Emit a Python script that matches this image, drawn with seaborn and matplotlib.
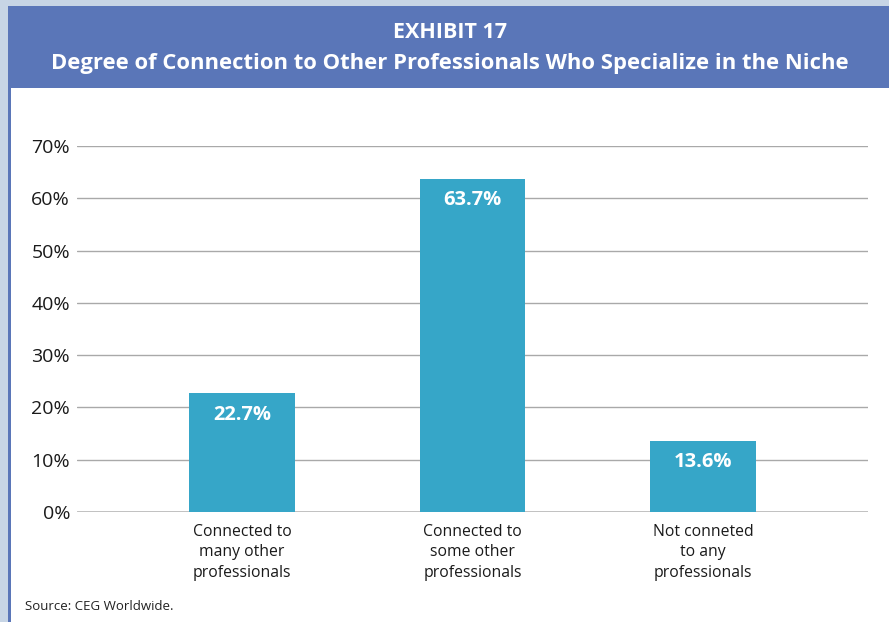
import matplotlib
matplotlib.use("Agg")
import matplotlib.pyplot as plt
from matplotlib.patches import Rectangle
import seaborn as sns
import pandas as pd

categories = ["Connected to\nmany other\nprofessionals",
              "Connected to\nsome other\nprofessionals",
              "Not conneted\nto any\nprofessionals"]
values = [22.7, 63.7, 13.6]
yticks = [0, 10, 20, 30, 40, 50, 60, 70]
title_line1 = "EXHIBIT 17"
title_line2 = "Degree of Connection to Other Professionals Who Specialize in the Niche"
source = "Source: CEG Worldwide."

sns.set_theme(style="white")
plt.rcParams["font.family"] = ["Open Sans", "DejaVu Sans"]

W, H = 889, 622
fig = plt.figure(figsize=(W / 100, H / 100), dpi=100)
fig.patch.set_facecolor("#c7d5e5")

def fx(px):
    return px / W

def fy(py):
    return 1 - py / H

# white panel, header band and left rule
fig.patches.append(Rectangle((fx(10), 0), 1 - fx(10), fy(88), transform=fig.transFigure,
                             facecolor="white", edgecolor="none", zorder=-2))
fig.patches.append(Rectangle((fx(10), fy(88)), 1 - fx(10), fy(6) - fy(88), transform=fig.transFigure,
                             facecolor="#5a76b8", edgecolor="none", zorder=-2))
fig.patches.append(Rectangle((fx(8), 0), fx(3), fy(6), transform=fig.transFigure,
                             facecolor="#5a76b8", edgecolor="none", zorder=-2))

fig.text(0.5 + fx(5), fy(33), title_line1, ha="center", va="center", color="white",
         fontsize=15.5, fontweight="bold")
fig.text(0.5 + fx(5), fy(63), title_line2, ha="center", va="center", color="white",
         fontsize=15.8, fontweight="bold")
fig.text(fx(25), fy(606), source, ha="left", va="center", color="#222222", fontsize=9.5)

df = pd.DataFrame({"category": categories, "value": values})

ax = fig.add_axes([fx(77), fy(512), fx(868) - fx(77), fy(146) - fy(512)])
ax.set_zorder(2)
ax.set_facecolor("none")
sns.barplot(data=df, x="category", y="value", color="#36a6c8", width=0.46,
            saturation=1, linewidth=0, edgecolor="none", ax=ax, zorder=3)
ax.set_xlim(-0.717, 2.717)
ax.set_ylim(0, 70)
ax.set_yticks(yticks)
ax.set_yticklabels([f"{t}%" for t in yticks])
ax.set_xlabel("")
ax.set_ylabel("")
for y in yticks:
    ax.axhline(y, color="#a9a9a9" if y else "#bbbbbb", lw=1.0 if y else 2.0, zorder=1)
for s in ax.spines.values():
    s.set_visible(False)
ax.tick_params(axis="y", length=0, pad=5, labelsize=14, labelcolor="#1a1a1a")
ax.tick_params(axis="x", length=0, pad=8.5, labelsize=11.3, labelcolor="#1a1a1a")
for lbl in ax.get_xticklabels():
    lbl.set_linespacing(1.38)

for i, v in enumerate(values):
    ax.annotate(f"{v}%", xy=(i, v), xytext=(0, -15.5), textcoords="offset points",
                ha="center", va="center", color="white", fontsize=14.5, fontweight="bold",
                zorder=4)

fig.savefig("out.png", dpi=100, facecolor=fig.get_facecolor())
